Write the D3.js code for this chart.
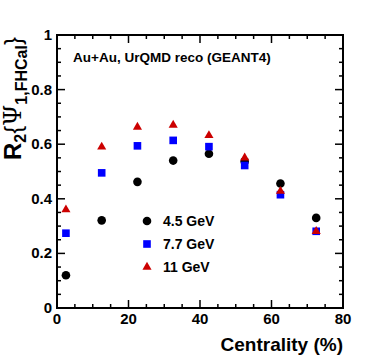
<!DOCTYPE html>
<html>
<head>
<meta charset="utf-8">
<script src="https://cdn.jsdelivr.net/npm/d3@7"></script>
<style>
  body { margin: 0; background: #fff; }
  text { font-family: "Liberation Sans", Arial, sans-serif; font-weight: bold; }
</style>
</head>
<body>
<div id="chart"></div>
<script>
var centrality = [2.5, 12.5, 22.5, 32.5, 42.5, 52.5, 62.5, 72.5];
var r2_45 = [0.120, 0.321, 0.462, 0.540, 0.565, 0.537, 0.456, 0.330];
var r2_77 = [0.274, 0.495, 0.594, 0.614, 0.591, 0.522, 0.415, 0.281];
var r2_11 = [0.360, 0.590, 0.663, 0.670, 0.632, 0.550, 0.428, 0.281];
var xTicks = [0, 20, 40, 60, 80];
var yTicks = [0, 0.2, 0.4, 0.6, 0.8, 1];
var seriesNames = ["4.5 GeV", "7.7 GeV", "11 GeV"];

var W = 382, H = 363;
var margin = {top: 35, right: 39, bottom: 55, left: 57};
var width = W - margin.left - margin.right,
    height = H - margin.top - margin.bottom;

var svg = d3.select("#chart").append("svg")
  .attr("width", W)
  .attr("height", H)
  .append("g")
  .attr("transform", "translate(" + margin.left + "," + margin.top + ")");

var xScale = d3.scaleLinear().domain([0, 80]).range([0, width]);
var yScale = d3.scaleLinear().domain([0, 1]).range([height, 0]);

// ROOT-style ticks on all four sides, pointing inward
var ticks = svg.append("g").attr("stroke", "black").attr("stroke-width", 1.5);
d3.range(0, 80.01, 5).forEach(function(v){
  var len = (v % 20 === 0) ? 8 : 4;
  ticks.append("line").attr("x1", xScale(v)).attr("x2", xScale(v))
    .attr("y1", height).attr("y2", height - len);
  ticks.append("line").attr("x1", xScale(v)).attr("x2", xScale(v))
    .attr("y1", 0).attr("y2", len);
});
d3.range(0, 20.01, 1).forEach(function(i){
  var v = i * 0.05;
  var len = (i % 4 === 0) ? 8 : 4;
  ticks.append("line").attr("y1", yScale(v)).attr("y2", yScale(v))
    .attr("x1", 0).attr("x2", len);
  ticks.append("line").attr("y1", yScale(v)).attr("y2", yScale(v))
    .attr("x1", width).attr("x2", width - len);
});

svg.append("rect")
  .attr("width", width).attr("height", height)
  .attr("fill", "none").attr("stroke", "black").attr("stroke-width", 2);

// tick labels
svg.selectAll(".xlab").data(xTicks).enter().append("text")
  .attr("x", function(d){ return xScale(d); })
  .attr("y", height + 16)
  .attr("text-anchor", "middle")
  .attr("font-size", 15)
  .text(function(d){ return d; });

svg.selectAll(".ylab").data(yTicks).enter().append("text")
  .attr("x", -5)
  .attr("y", function(d){ return yScale(d) + 5; })
  .attr("text-anchor", "end")
  .attr("font-size", 15)
  .text(function(d){ return d === 0 ? "0" : d3.format("~g")(d); });

// axis titles
svg.append("text")
  .attr("x", width)
  .attr("y", height + 43)
  .attr("text-anchor", "end")
  .attr("font-size", 19)
  .text("Centrality (%)");

var yt = svg.append("text")
  .attr("transform", "translate(-36,125) rotate(-90)")
  .attr("font-size", 24);
yt.append("tspan").text("R");
yt.append("tspan").attr("font-size", 16).attr("dy", 5).text("2");
yt.append("tspan").attr("dy", -5).attr("font-weight", "normal").text("{");
yt.append("tspan").attr("font-weight", "normal").attr("font-family", "DejaVu Serif").text("\u03A8");
yt.append("tspan").attr("font-size", 16).attr("dy", 6).text("1,FHCal");
yt.append("tspan").attr("dy", -6).attr("font-weight", "normal").text("}");

svg.append("text")
  .attr("x", xScale(4.5))
  .attr("y", yScale(0.92) + 5)
  .attr("font-size", 13.5)
  .text("Au+Au, UrQMD reco (GEANT4)");

// markers
var circle = d3.symbol().type(d3.symbolCircle).size(58);
var square = d3.symbol().type(d3.symbolSquare).size(58);
var tri = d3.symbol().type(d3.symbolTriangle).size(36);

var series = [
  {vals: r2_45, sym: circle, color: "black"},
  {vals: r2_77, sym: square, color: "#0000ff"},
  {vals: r2_11, sym: tri, color: "#cc0000"}
];

series.forEach(function(s){
  svg.append("g").selectAll("path").data(s.vals).enter().append("path")
    .attr("d", s.sym)
    .attr("fill", s.color)
    .attr("transform", function(d, i){
      return "translate(" + xScale(centrality[i]) + "," + yScale(d) + ")";
    });
});

// legend
var legend = svg.append("g");
series.forEach(function(s, i){
  var ly = 186 + i * 23;
  legend.append("path").attr("d", s.sym).attr("fill", s.color)
    .attr("transform", "translate(90," + ly + ")");
  legend.append("text").attr("x", 106).attr("y", ly + 5)
    .attr("font-size", 14).text(seriesNames[i]);
});
</script>
</body>
</html>
